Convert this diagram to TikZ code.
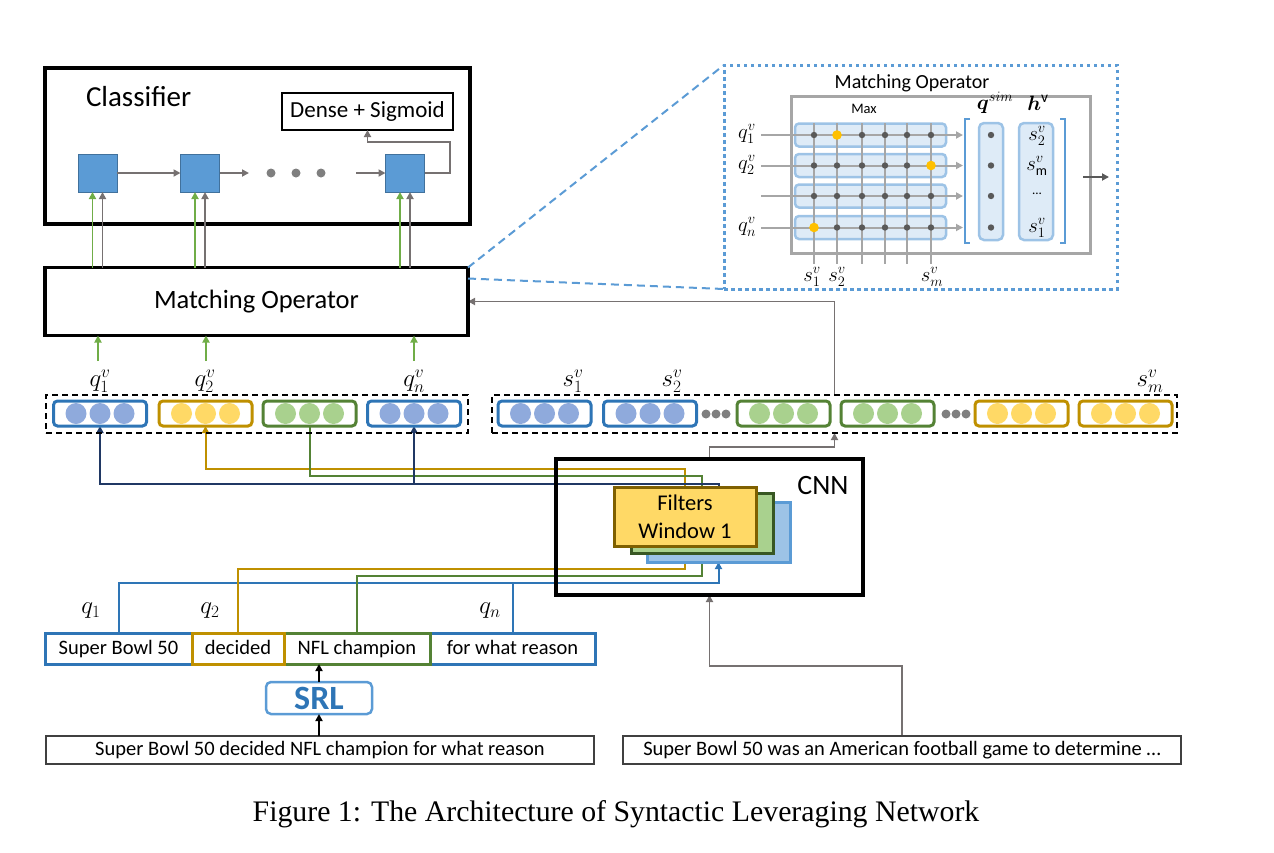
\documentclass[tikz,border=0pt]{standalone}
\usepackage{fontspec}
\usepackage{bm}
\setmainfont{Carlito}
\newfontfamily\capfont{Liberation Serif}
\usetikzlibrary{arrows.meta,backgrounds}
\definecolor{blueb}{HTML}{2E75B6}
\definecolor{bluec}{HTML}{8FAADC}
\definecolor{yelb}{HTML}{BF9000}
\definecolor{yelc}{HTML}{FFD966}
\definecolor{greb}{HTML}{548235}
\definecolor{grec}{HTML}{A9D18E}
\definecolor{navy}{HTML}{203864}
\definecolor{garc}{HTML}{767171}
\definecolor{grna}{HTML}{70AD47}
\definecolor{sqfill}{HTML}{5B9BD5}
\definecolor{sqdraw}{HTML}{41719C}
\definecolor{lblue}{HTML}{5B9BD5}
\definecolor{paleb}{HTML}{DEEBF7}
\definecolor{midb}{HTML}{9DC3E6}
\definecolor{lgray}{HTML}{A6A6A6}
\definecolor{dgray}{HTML}{595959}
\definecolor{dotc}{HTML}{7F7F7F}
\definecolor{ydot}{HTML}{FFC000}
\definecolor{fyd}{HTML}{7F6000}
\definecolor{fgd}{HTML}{385723}
\definecolor{bdark}{HTML}{404040}
\newcommand\vecrow[5]{%
  \node[vbox, draw=#4] (#1) at (#2,#3) {};
  \foreach \d in {-1,0,1} \fill[#5] (#2+24*\d,#3) circle[radius=10.5];
}
\begin{document}
\begin{tikzpicture}[x=1pt,y=-1pt,
  >={Triangle[length=7pt,width=7pt]},
  every node/.style={inner sep=0pt,outer sep=0pt},
  bigbox/.style={draw=black,line width=3.2pt},
  sq/.style={fill=sqfill,draw=sqdraw,line width=1pt,minimum width=39pt,minimum height=38pt},
  garr/.style={draw=garc,line width=1.8pt},
  grnarr/.style={draw=grna,line width=1.8pt},
  vbox/.style={line width=3pt,rounded corners=4pt,minimum width=93pt,minimum height=25pt},
  dbox/.style={draw=black,line width=2pt,dash pattern=on 6pt off 4pt},
  mlab/.style={font=\fontsize{26}{30}\selectfont},
  wbox/.style={line width=3pt,minimum height=31pt,text height=14pt,text depth=2.5pt,font=\fontsize{20.5}{24}\selectfont},
  row/.style={fill=paleb,draw=midb,line width=2.5pt,rounded corners=4pt,minimum width=151pt,minimum height=23pt},
  col/.style={fill=paleb,draw=midb,line width=2.5pt,rounded corners=5pt,minimum height=117pt},
  plab/.style={font=\fontsize{22}{26}\selectfont},
  hlab/.style={font=\fontsize{20}{24}\selectfont},
  con/.style={line width=2pt}
]
\useasboundingbox (0,0) rectangle (1274,852);

% ---------------- Classifier
\node[bigbox,minimum width=425pt,minimum height=156pt] (cls) at (257.5,146) {};
\node[anchor=west,font=\fontsize{29}{34}\selectfont] (clst) at (86,97) {Classifier};
\node[draw,line width=1.5pt,minimum width=171pt,minimum height=37pt,font=\fontsize{23}{28}\selectfont] (dense) at (367.5,111.5) {Dense + Sigmoid};
\node[sq] (sq1) at (97.5,173) {};
\node[sq] (sq2) at (200,173) {};
\node[sq] (sq3) at (405,173) {};
\coordinate (e2) at (249,173);
\coordinate (s3) at (356,173);
\coordinate (c1) at (450,142);
\draw[garr,->] (sq1.east) -- (sq2.west);
\draw[garr,->] (sq2.east) -- (e2);
\foreach \x in {271,296,321} \fill[dotc] (\x,173) circle[radius=4.5];
\draw[garr,->] (s3) -- (sq3.west);
\draw[garr,->] (sq3.east) -| (c1) -| (dense.south);

% ---------------- Matching operator
\node[bigbox,minimum width=423pt,minimum height=68pt,font=\fontsize{26.5}{30}\selectfont] (mo) at (256.5,301.5) {Matching Operator};
\foreach \s in {sq1,sq2,sq3} {
  \coordinate (gl) at ([xshift=-5pt]\s.south);
  \coordinate (gr) at ([xshift=5pt]\s.south);
  \draw[grnarr,->] (gl |- mo.north) -- (gl);
  \draw[garr,->] (gr |- mo.north) -- (gr);
}
\foreach \x in {98,206,414} {
  \coordinate (ga) at (\x,361);
  \draw[grnarr,->] (ga) -- (ga |- mo.south);
}

% ---------------- q vectors
\node[dbox,minimum width=422pt,minimum height=38pt] (qd) at (257,414) {};
\vecrow{qb1}{100}{413.5}{blueb}{bluec}
\vecrow{qb2}{205.5}{413.5}{yelb}{yelc}
\vecrow{qb3}{309.5}{413.5}{greb}{grec}
\vecrow{qb4}{414}{413.5}{blueb}{bluec}
\node[mlab] (lq1) at (100,381) {$q_1^v$};
\node[mlab] (lq2) at (205,381) {$q_2^v$};
\node[mlab] (lqn) at (414,381) {$q_n^v$};

% ---------------- s vectors
\node[dbox,minimum width=685pt,minimum height=38pt] (sd) at (834.5,414) {};
\vecrow{sb1}{544.5}{413.5}{blueb}{bluec}
\vecrow{sb2}{650}{413.5}{blueb}{bluec}
\vecrow{sb3}{783.5}{413.5}{greb}{grec}
\vecrow{sb4}{887.5}{413.5}{greb}{grec}
\vecrow{sb5}{1021.5}{413.5}{yelb}{yelc}
\vecrow{sb6}{1125.5}{413.5}{yelb}{yelc}
\foreach \x in {706,716,726,946,956,966} \fill[dotc] (\x,414) circle[radius=4.5];
\node[mlab] (ls1) at (573,381) {$s_1^v$};
\node[mlab] (ls2) at (672,381) {$s_2^v$};
\node[mlab] (lsm) at (1150,381) {$s_m^v$};

% ---------------- CNN
\node[bigbox,minimum width=307pt,minimum height=136pt] (cnn) at (709.5,527) {};
\node[font=\fontsize{28}{32}\selectfont] (cnnt) at (823,486) {CNN};
\node[fill=midb,draw=lblue,line width=3pt,minimum width=143pt,minimum height=60pt] (fb) at (718.5,532) {};
\node[fill=grec,draw=fgd,line width=3pt,minimum width=142pt,minimum height=60pt] (fg) at (702,523) {};
\node[fill=yelc,draw=fyd,line width=3pt,minimum width=142pt,minimum height=59pt,align=center,font=\fontsize{22.5}{28}\selectfont] (fy) at (685,516.5) {Filters\\Window 1};

% ---------------- words
\node[wbox,draw=blueb,minimum width=147pt] (wb1) at (118.5,648.5) {Super Bowl 50};
\node[wbox,draw=blueb,minimum width=165pt] (wb4) at (512.5,648.5) {for what reason};
\node[wbox,draw=greb,minimum width=146pt] (wb3) at (357,648.5) {NFL champion};
\node[wbox,draw=yelb,minimum width=92pt] (wb2) at (238,648.5) {decided};
\node[mlab] (lw1) at (91,611) {$q_1$};
\node[mlab] (lw2) at (210,611) {$q_2$};
\node[mlab] (lwn) at (490,611) {$q_n$};

\node[draw=lblue,line width=2.5pt,rounded corners=5pt,minimum width=106pt,minimum height=32pt,text=blueb,font=\fontsize{34}{36}\selectfont\bfseries] (srl) at (319,698) {SRL};
\node[draw=bdark,line width=2.5pt,minimum width=548pt,minimum height=28pt,text height=14pt,text depth=2.5pt,font=\fontsize{20.5}{24}\selectfont] (bb1) at (320,750) {Super Bowl 50 decided NFL champion for what reason};
\node[draw=bdark,line width=2.5pt,minimum width=558pt,minimum height=28pt,text height=14pt,text depth=2.5pt,font=\fontsize{20.5}{24}\selectfont] (bb2) at (902,750) {Super Bowl 50 was an American football game to determine \dots};
\draw[line width=2pt,->] (bb1.north -| srl.south) -- (srl.south);
\draw[line width=2pt,->] (srl.north) -- (srl.north |- wb3.south);

% ---------------- connectors (behind boxes)
\begin{scope}[on background layer]
  \draw[con,draw=yelb,->] (fy.north) -- ++(0,-18) -| (qb2.south);
  \draw[con,draw=greb] (fg.north) -- ++(0,-17) -| (qb3.south);
  \draw[con,draw=navy,->] (fb.north) -- ++(0,-18) -| (qb1.south);
  \draw[con,draw=navy,->] ([yshift=-58pt]qb4.south) -- (qb4.south);
  \draw[con,draw=blueb,->] (wb1.north) -- ++(0,-50) -| (fb.south);
  \draw[con,draw=blueb] (wb4.north) -- ++(0,-50);
  \draw[con,draw=yelb,->] (wb2.north) -- ++(0,-64) -| (fy.south);
  \draw[con,draw=greb,->] (wb3.north) -- ++(0,-57) -| (fg.south);
  \draw[garr,->] (cnn.north) -- ++(0,-12) -| (sd.south);
  \draw[garr,->] (sd.north) |- (mo.east);
  \draw[garr,->] (bb2.north) -- ++(0,-70) -| (cnn.south);
\end{scope}

% ---------------- zoom panel
\node[draw=lblue,line width=3pt,dash pattern=on 3.5pt off 3.5pt,minimum width=393pt,minimum height=224pt] (panel) at (920.5,177) {};
\draw[draw=lblue,line width=2pt,dash pattern=on 8pt off 5pt] (mo.north east) -- (panel.north west);
\draw[draw=lblue,line width=2pt,dash pattern=on 8pt off 5pt] ([yshift=-11pt]mo.north east) -- (panel.south west);
\node[font=\fontsize{20}{24}\selectfont] (pt) at (912,83) {Matching Operator};
\node[draw=lgray,line width=3pt,minimum width=299pt,minimum height=157pt] (mg) at (940.5,174.5) {};
\node[font=\fontsize{14.5}{17}\selectfont] (max) at (864,109) {Max};
\foreach \y [count=\i] in {135,165.5,196,227.5} \node[row] (r\i) at (870.5,\y) {};
\foreach \y [count=\i] in {135,165.5,196,227.5} {
  \coordinate (rl\i) at (761,\y);
  \coordinate (rr\i) at (963,\y);
  \draw[draw=lgray,line width=2pt,->] (rl\i) -- (rr\i);
}
\foreach \x in {814,837,862,885,907,931} {
  \coordinate (ct) at (\x,123);
  \coordinate (cb) at (\x,264);
  \draw[draw=lgray,line width=2pt] (ct) -- (cb);
}
\foreach \x in {814,837,862,885,907,931}
  \foreach \y in {135,165.5,196,227.5}
    \fill[dgray] (\x,\y) circle[radius=3.2];
\fill[ydot] (837,135) circle[radius=4.8];
\fill[ydot] (931,165.5) circle[radius=4.8];
\fill[ydot] (814,227.5) circle[radius=4.8];
\node[plab] (pq1) at (747,134) {$q_1^v$};
\node[plab] (pq2) at (747,165) {$q_2^v$};
\node[plab] (pqn) at (747,227) {$q_n^v$};
\node[plab] (ps1) at (812,277) {$s_1^v$};
\node[plab] (ps2) at (837,277) {$s_2^v$};
\node[plab] (psm) at (932,277) {$s_m^v$};
\draw[draw=lblue,line width=1.5pt] (970,119) -- (965,119) -- (965,243) -- (970,243);
\draw[draw=lblue,line width=1.5pt] (1060,119) -- (1065,119) -- (1065,243) -- (1060,243);
\node[col,minimum width=24pt] (qs) at (991,181.5) {};
\node[col,minimum width=34pt] (hv) at (1036,181.5) {};
\foreach \y in {135,165.5,196,227.5} \fill[dgray] (991,\y) circle[radius=3.2];
\node[plab] (lqs) at (995,103) {$\bm{q}^{sim}$};
\node[plab] (lhv) at (1038,103) {$\bm{h}^{\mathrm{v}}$};
\node[hlab] (h1) at (1037,136) {$s_2^v$};
\node[hlab] (h2) at (1037,166) {$s_{\mathrm{m}}^v$};
\node[font=\fontsize{13}{16}\selectfont] (h3) at (1037,194) {...};
\node[hlab] (h4) at (1037,228) {$s_1^v$};
\coordinate (pa) at (1083,177);
\coordinate (pb) at (1109,177);
\draw[draw=dgray,line width=2pt,->] (pa) -- (pb);

% ---------------- caption
\node[font=\capfont\fontsize{29.8}{34}\selectfont] (cap) at (616,814) {Figure 1: The Architecture of Syntactic Leveraging Network};
\end{tikzpicture}
\end{document}
